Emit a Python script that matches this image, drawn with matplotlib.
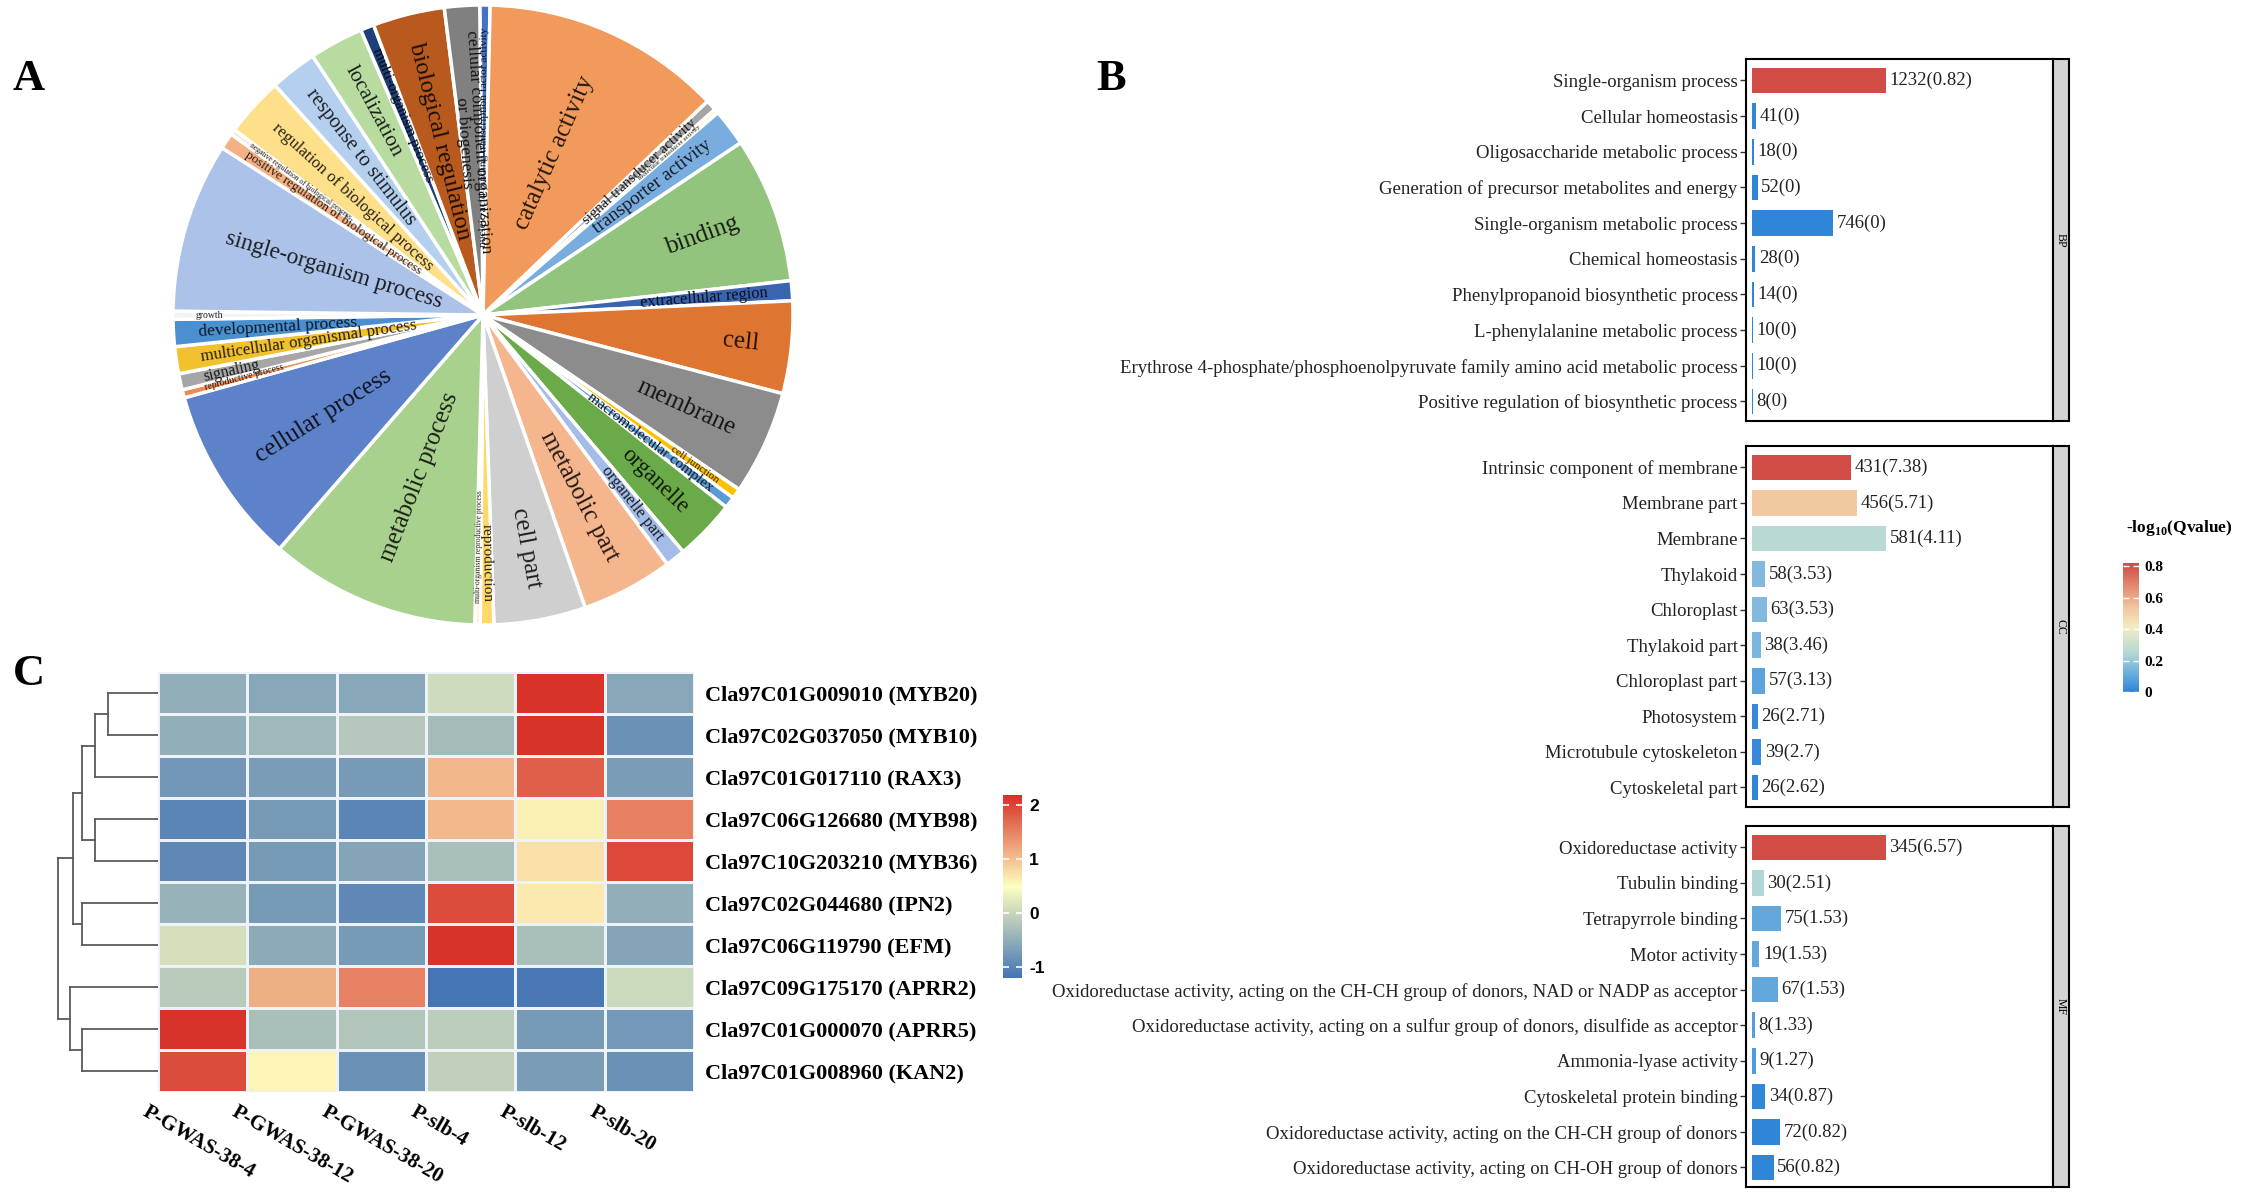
import numpy as np
import matplotlib
matplotlib.use("Agg")
import matplotlib.pyplot as plt
from matplotlib.colors import LinearSegmentedColormap, to_rgb

plt.rcParams['font.family'] = ['Liberation Serif', 'DejaVu Serif']
plt.rcParams['mathtext.fontset'] = 'custom'
plt.rcParams['mathtext.rm'] = 'Liberation Serif:bold'
plt.rcParams['mathtext.bf'] = 'Liberation Serif:bold'

## ---------------- data: panel A (GO pie, clockwise from top) ----------------
go_terms = ["nucleic acid binding transcription factor activity", "catalytic activity",
            "signal transducer activity", "molecular transducer activity", "transporter activity",
            "binding", "extracellular region", "cell", "membrane", "cell junction",
            "macromolecular complex", "organelle", "organelle part", "metabolic part", "cell part",
            "reproduction", "multi-organism reproductive process", "metabolic process",
            "cellular process", "reproductive process", "signaling",
            "multicellular organismal process", "developmental process", "growth",
            "single-organism process", "positive regulation of biological process",
            "negative regulation of biological process", "regulation of biological process",
            "response to stimulus", "localization", "multi-organism process",
            "biological regulation", "cellular component organization\nor biogenesis"]
go_share = [1.9, 44.5, 2.0, 0.8, 6.9, 27.0, 3.7, 17.1, 19.3, 1.9, 2.1, 11.3, 3.7, 17.0, 17.0,
            2.5, 1.0, 39.0, 33.0, 1.5, 3.0, 5.0, 5.0, 1.5, 31.5, 3.0, 1.0, 11.0, 8.7, 10.0,
            2.5, 13.3, 6.5]
go_colors = ['#4472C4', '#F29A5C', '#A5A5A5', '#FFF2AA', '#79ADE0', '#93C47D', '#3A64B0',
             '#DE7530', '#8C8C8C', '#FFC000', '#5B9BD5', '#6AAA48', '#A4BDE8', '#F5B68E',
             '#CFCFCF', '#FFD966', '#FFF2CC', '#A9D18E', '#5E82C9', '#F08A50', '#A6A6A6',
             '#F2C12E', '#4A90D0', '#F4F4F4', '#ADC2E8', '#F4B183', '#FBE5D6', '#FFE08A',
             '#B4D0EE', '#B8DBA0', '#1F3F7A', '#B85A1E', '#808080']

## ---------------- data: panel B (enrichment bars) ----------------
bp_terms = ["Single-organism process", "Cellular homeostasis", "Oligosaccharide metabolic process",
            "Generation of precursor metabolites and energy", "Single-organism metabolic process",
            "Chemical homeostasis", "Phenylpropanoid biosynthetic process",
            "L-phenylalanine metabolic process",
            "Erythrose 4-phosphate/phosphoenolpyruvate family amino acid metabolic process",
            "Positive regulation of biosynthetic process"]
bp_counts = [1232, 41, 18, 52, 746, 28, 14, 10, 10, 8]
bp_q = [0.82, 0, 0, 0, 0, 0, 0, 0, 0, 0]

cc_terms = ["Intrinsic component of membrane", "Membrane part", "Membrane", "Thylakoid",
            "Chloroplast", "Thylakoid part", "Chloroplast part", "Photosystem",
            "Microtubule cytoskeleton", "Cytoskeletal part"]
cc_counts = [431, 456, 581, 58, 63, 38, 57, 26, 39, 26]
cc_q = [7.38, 5.71, 4.11, 3.53, 3.53, 3.46, 3.13, 2.71, 2.7, 2.62]

mf_terms = ["Oxidoreductase activity", "Tubulin binding", "Tetrapyrrole binding", "Motor activity",
            "Oxidoreductase activity, acting on the CH-CH group of donors, NAD or NADP as acceptor",
            "Oxidoreductase activity, acting on a sulfur group of donors, disulfide as acceptor",
            "Ammonia-lyase activity", "Cytoskeletal protein binding",
            "Oxidoreductase activity, acting on the CH-CH group of donors",
            "Oxidoreductase activity, acting on CH-OH group of donors"]
mf_counts = [345, 30, 75, 19, 67, 8, 9, 34, 72, 56]
mf_q = [6.57, 2.51, 1.53, 1.53, 1.53, 1.33, 1.27, 0.87, 0.82, 0.82]

facet_names = ["BP", "CC", "MF"]
legend_ticks = [0, 0.2, 0.4, 0.6, 0.8]

## ---------------- data: panel C (heatmap) ----------------
genes = ["Cla97C01G009010 (MYB20)", "Cla97C02G037050 (MYB10)", "Cla97C01G017110 (RAX3)",
         "Cla97C06G126680 (MYB98)", "Cla97C10G203210 (MYB36)", "Cla97C02G044680 (IPN2)",
         "Cla97C06G119790 (EFM)", "Cla97C09G175170 (APRR2)", "Cla97C01G000070 (APRR5)",
         "Cla97C01G008960 (KAN2)"]
samples = ["P-GWAS-38-4", "P-GWAS-38-12", "P-GWAS-38-20", "P-slb-4", "P-slb-12", "P-slb-20"]
expr = np.array([
    [-0.50, -0.60, -0.58, 0.05, 2.15, -0.60],
    [-0.50, -0.37, -0.18, -0.33, 2.15, -0.85],
    [-0.78, -0.72, -0.75, 1.07, 1.79, -0.72],
    [-1.00, -0.75, -1.00, 1.05, 0.60, 1.53],
    [-0.95, -0.75, -0.62, -0.30, 0.75, 1.97],
    [-0.45, -0.75, -0.95, 1.95, 0.67, -0.50],
    [0.10, -0.55, -0.75, 2.15, -0.30, -0.62],
    [-0.15, 1.14, 1.50, -1.20, -1.15, 0.02],
    [2.15, -0.30, -0.22, -0.12, -0.75, -0.77],
    [1.95, 0.58, -0.85, -0.08, -0.72, -0.85]])
# row dendrogram: (child a, child b, height); leaves 0..9, new nodes numbered from 10
row_merges = [(0, 1, 0.50), (10, 2, 0.63), (3, 4, 0.63), (11, 12, 0.76), (5, 6, 0.76),
              (8, 9, 0.76), (13, 14, 0.85), (7, 15, 0.88), (16, 17, 1.00)]
heat_ticks = [-1, 0, 1, 2]

## ---------------- figure ----------------
W, H = 2248, 1203
fig = plt.figure(figsize=(W / 100, H / 100), dpi=100)


def px_axes(l, t, r, b):
    return fig.add_axes([l / W, 1 - b / H, (r - l) / W, (b - t) / H])


## ---- panel A ----
cx, cy, R = 483, 315, 310
axA = px_axes(cx - R, cy - R, cx + R, cy + R)
wedges, _ = axA.pie(go_share, colors=go_colors, startangle=90.6, counterclock=False,
                    wedgeprops=dict(edgecolor='white', linewidth=2.5), radius=1)
axA.set_xlim(-1, 1)
axA.set_ylim(-1, 1)
axA.set_aspect('equal')
axA.axis('off')
total = sum(go_share)
for w, lab, s, c in zip(wedges, go_terms, go_share, go_colors):
    deg = s / total * 360
    mid = np.deg2rad((w.theta1 + w.theta2) / 2)
    if deg < 2:
        fs = 2.5 + 3 * deg
    else:
        longest = max(len(x) for x in lab.split("\n"))
        fs = min(18, 9.5 + 0.6 * deg, 225 / (longest * 0.42 * 1.389))
    r_end = 0.93 - 0.002 * deg
    x, y = r_end * np.cos(mid), r_end * np.sin(mid)
    rot = np.rad2deg(mid)
    if np.cos(mid) >= 0:
        ha = 'right'
    else:
        ha = 'left'
        rot += 180
    rot = (rot + 180) % 360 - 180
    tc = tuple(np.array(to_rgb(c)) * 0.15)
    axA.text(x, y, lab, rotation=rot, rotation_mode='anchor', ha=ha, va='center',
             fontsize=fs, color=tc, multialignment='center', linespacing=0.9)

## ---- panel B ----
cmapB = LinearSegmentedColormap.from_list(
    'qv', [(0, '#2F86D8'), (0.15, '#6FB0DE'), (0.3, '#B5D8D5'), (0.5, '#F3EDC4'),
           (0.65, '#F2C8A0'), (1, '#D04C45')])
facets = [(bp_terms, bp_counts, bp_q, 59, 421),
          (cc_terms, cc_counts, cc_q, 446, 807),
          (mf_terms, mf_counts, mf_q, 826, 1187)]
for (terms, counts, qv, top, bot), name in zip(facets, facet_names):
    ax = px_axes(1746, top, 2053, bot)
    counts = np.array(counts)
    qv = np.array(qv, dtype=float)
    norm = (qv - qv.min()) / (qv.max() - qv.min())
    n = len(terms)
    ax.barh(np.arange(n), counts, height=0.72, color=cmapB(norm))
    xmax = counts.max() * 2.25
    for i, (c, q) in enumerate(zip(counts, qv)):
        ax.text(c + 0.012 * xmax, i, f"{c}({q:g})", va='center', ha='left', fontsize=13.5,
                color='#222222')
    ax.set_xlim(-0.02 * xmax, xmax)
    ax.set_ylim(n - 1 + 0.55, -0.6)
    ax.set_xticks([])
    ax.set_yticks(np.arange(n))
    ax.set_yticklabels(terms, fontsize=13.5, color='#222222')
    ax.tick_params(axis='y', length=4, width=1, color='#333333', pad=2)
    for sp in ax.spines.values():
        sp.set_linewidth(1.5)
    sax = px_axes(2053, top, 2069, bot)
    sax.set_facecolor('#D3D3D3')
    sax.set_xticks([])
    sax.set_yticks([])
    for sp in sax.spines.values():
        sp.set_linewidth(1.5)
    sax.text(0.5, 0.5, name, rotation=-90, ha='center', va='center', fontsize=8.5,
             transform=sax.transAxes)

fig.text(2179 / W, 1 - 528 / H, r'-log$_{\mathbf{10}}$(Qvalue)', ha='center', va='center',
         fontsize=12.5, fontweight='bold')
lax = px_axes(2123, 563, 2139, 692)
grad = np.linspace(0, 0.82, 200).reshape(-1, 1)
lax.imshow(grad, cmap=cmapB, aspect='auto', origin='lower', extent=(0, 1, 0, 0.82),
           vmin=0, vmax=0.82)
lax.set_xticks([])
lax.yaxis.tick_right()
lax.set_yticks(legend_ticks)
lax.set_yticklabels([f"{t:g}" for t in legend_ticks], fontsize=11, fontweight='bold')
lax.tick_params(axis='y', direction='in', color='white', length=4, width=1, left=True,
                right=True, pad=4)
for sp in lax.spines.values():
    sp.set_visible(False)

## ---- panel C ----
cmapC = LinearSegmentedColormap.from_list('rdylbu3', ['#4575B4', '#FFFFBF', '#D73027'])
vmin, vmax = -1.2, 2.18
axC = px_axes(158, 672, 694, 1092)
axC.pcolormesh(expr, cmap=cmapC, vmin=vmin, vmax=vmax, edgecolors='#EEF3FA', linewidth=2)
axC.set_xlim(0, len(samples))
axC.set_ylim(len(genes), 0)
for sp in axC.spines.values():
    sp.set_visible(False)
axC.set_xticks([])
axC.yaxis.tick_right()
axC.set_yticks(np.arange(len(genes)) + 0.5)
axC.set_yticklabels(genes, fontsize=16, fontweight='bold')
axC.tick_params(axis='y', length=0, pad=8)
for j, s in enumerate(samples):
    axC.text(j - 0.1, len(genes) + 0.25, s, rotation=-30, rotation_mode='anchor',
             ha='left', va='top', fontsize=15, fontweight='bold')

# dendrogram
dax = px_axes(55, 672, 158, 1092)
pos = {i: i + 0.5 for i in range(len(genes))}
hgt = {i: 0.0 for i in range(len(genes))}
node = len(genes)
for a, b, h in row_merges:
    for ch in (a, b):
        dax.plot([hgt[ch], h], [pos[ch], pos[ch]], color='#5A5A5A', lw=1.3)
    dax.plot([h, h], [pos[a], pos[b]], color='#5A5A5A', lw=1.3)
    pos[node] = (pos[a] + pos[b]) / 2
    hgt[node] = h
    node += 1
dax.set_xlim(1.03, 0)
dax.set_ylim(len(genes), 0)
dax.axis('off')

# heatmap colour key
cax = px_axes(1003, 795, 1022, 978)
g2 = np.linspace(vmin, vmax, 300).reshape(-1, 1)
cax.imshow(g2, cmap=cmapC, aspect='auto', origin='lower', extent=(0, 1, vmin, vmax),
           vmin=vmin, vmax=vmax)
cax.set_xticks([])
cax.yaxis.tick_right()
cax.set_yticks(heat_ticks)
cax.set_yticklabels([str(t) for t in heat_ticks], fontsize=12.5, fontweight='bold',
                    family='Liberation Sans')
cax.tick_params(axis='y', direction='in', color='white', length=4, width=1.2, left=True,
                right=True, pad=5)
for sp in cax.spines.values():
    sp.set_visible(False)

## ---- panel letters ----
for letter, (lx, ly) in zip("ABC", [(29, 79), (1111, 79), (29, 674)]):
    fig.text(lx / W, 1 - ly / H, letter, fontsize=32, fontweight='bold', ha='center',
             va='center')

fig.savefig('out.png', dpi=100, facecolor='white')
